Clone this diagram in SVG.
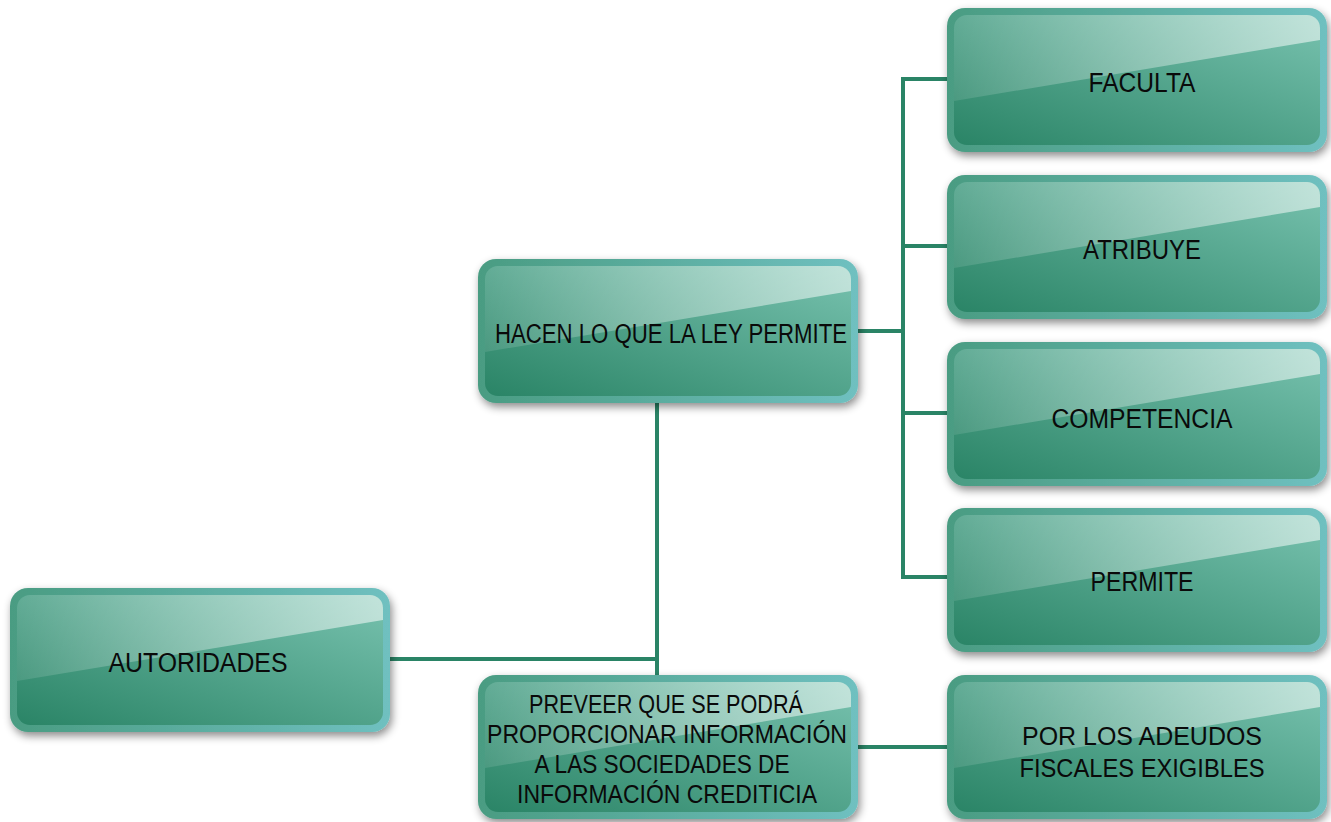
<svg xmlns="http://www.w3.org/2000/svg" xmlns:xlink="http://www.w3.org/1999/xlink" width="1331" height="822" viewBox="0 0 1331 822">
<defs>
<style>
.lbl{font-family:"Liberation Sans",Arial,sans-serif;font-size:27px;fill:#0a0a0a;text-anchor:middle}
.ml{font-size:25px}
.conn{stroke:#2a8466;stroke-width:4;fill:none}
</style>
<linearGradient id="border" x1="0" y1="0" x2="1" y2="0">
<stop offset="0" stop-color="#4a9c82"/>
<stop offset="1" stop-color="#6fc0c0"/>
</linearGradient>
<linearGradient id="fill" x1="0" y1="1" x2="1" y2="0">
<stop offset="0" stop-color="#2a8466"/>
<stop offset="1" stop-color="#78c2af"/>
</linearGradient>
<linearGradient id="gloss" x1="0" y1="0" x2="1" y2="0">
<stop offset="0" stop-color="#ffffff" stop-opacity="0.1"/>
<stop offset="1" stop-color="#ffffff" stop-opacity="0.55"/>
</linearGradient>
<filter id="shadow" x="-10%" y="-10%" width="125%" height="135%">
<feDropShadow dx="2" dy="4" stdDeviation="4" flood-color="#000" flood-opacity="0.45"/>
</filter>
<g id="box">
<rect x="0" y="0" width="380" height="144" rx="18" fill="url(#border)" filter="url(#shadow)"/>
<rect x="7" y="7" width="366" height="130" rx="13" fill="url(#fill)"/>
<path d="M7,93 V20 A13,13 0 0 1 20,7 H360 A13,13 0 0 1 373,20 V32 Z" fill="url(#gloss)"/>
</g>
</defs>
<g id="connectors">
<path class="conn" d="M657,402 V675"/>
<path class="conn" d="M390,659 H659"/>
<path class="conn" d="M858,331 H903"/>
<path class="conn" d="M903,79 V577"/>
<path class="conn" d="M901,79 H947 M903,246 H947 M903,413 H947 M901,577 H947"/>
<path class="conn" d="M858,747 H947"/>
</g>
<g id="n-autoridades">
<use xlink:href="#box" x="10" y="588"/>
<text class="lbl" x="198" y="672" textLength="179" lengthAdjust="spacingAndGlyphs">AUTORIDADES</text>
</g>
<g id="n-hacen">
<use xlink:href="#box" x="478" y="259"/>
<text class="lbl" x="671" y="343" textLength="352" lengthAdjust="spacingAndGlyphs">HACEN LO QUE LA LEY PERMITE</text>
</g>
<g id="n-preveer">
<use xlink:href="#box" x="478" y="675"/>
<text class="lbl ml" x="666" y="713" textLength="274" lengthAdjust="spacingAndGlyphs">PREVEER QUE SE PODRÁ</text>
<text class="lbl ml" x="667" y="743" textLength="360" lengthAdjust="spacingAndGlyphs">PROPORCIONAR INFORMACIÓN</text>
<text class="lbl ml" x="662" y="773" textLength="255" lengthAdjust="spacingAndGlyphs">A LAS SOCIEDADES DE</text>
<text class="lbl ml" x="667" y="803" textLength="300" lengthAdjust="spacingAndGlyphs">INFORMACIÓN CREDITICIA</text>
</g>
<g id="n-faculta">
<use xlink:href="#box" x="947" y="8"/>
<text class="lbl" x="1142" y="92" textLength="107" lengthAdjust="spacingAndGlyphs">FACULTA</text>
</g>
<g id="n-atribuye">
<use xlink:href="#box" x="947" y="175"/>
<text class="lbl" x="1142" y="259" textLength="118" lengthAdjust="spacingAndGlyphs">ATRIBUYE</text>
</g>
<g id="n-competencia">
<use xlink:href="#box" x="947" y="342"/>
<text class="lbl" x="1142" y="428" textLength="181" lengthAdjust="spacingAndGlyphs">COMPETENCIA</text>
</g>
<g id="n-permite">
<use xlink:href="#box" x="947" y="508"/>
<text class="lbl" x="1142" y="591" textLength="103" lengthAdjust="spacingAndGlyphs">PERMITE</text>
</g>
<g id="n-adeudos">
<use xlink:href="#box" x="947" y="675"/>
<text class="lbl ml" x="1142" y="745" textLength="240" lengthAdjust="spacingAndGlyphs">POR LOS ADEUDOS</text>
<text class="lbl ml" x="1142" y="777" textLength="245" lengthAdjust="spacingAndGlyphs">FISCALES EXIGIBLES</text>
</g>
</svg>
